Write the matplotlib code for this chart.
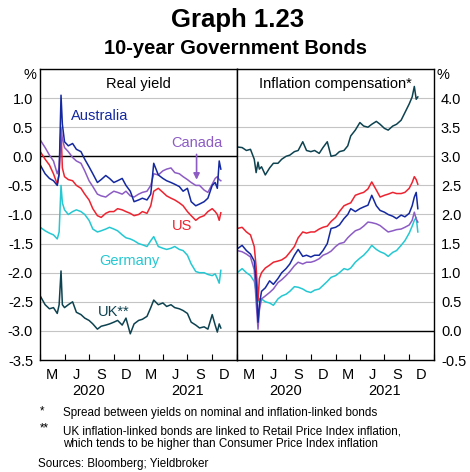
import pandas as pd
import matplotlib.pyplot as plt
import matplotlib.transforms as mtransforms

plt.rcParams['font.family'] = ['Liberation Sans', 'DejaVu Sans']

# observation dates (roughly twice a month, with extra points around the March 2020 sell-off)
dates = pd.to_datetime([
    "2020-01-02", "2020-01-20", "2020-02-05", "2020-02-20", "2020-03-05", "2020-03-12",
    "2020-03-19", "2020-03-24", "2020-04-01", "2020-04-15", "2020-05-01", "2020-05-15",
    "2020-06-01", "2020-06-15", "2020-07-01", "2020-07-15", "2020-08-01", "2020-08-15",
    "2020-09-01", "2020-09-15", "2020-10-01", "2020-10-15", "2020-11-01", "2020-11-15",
    "2020-12-01", "2020-12-15", "2021-01-01", "2021-01-15", "2021-02-01", "2021-02-15",
    "2021-02-26", "2021-03-15", "2021-04-01", "2021-04-15", "2021-05-01", "2021-05-15",
    "2021-06-01", "2021-06-15", "2021-07-01", "2021-07-15", "2021-08-01", "2021-08-15",
    "2021-09-01", "2021-09-15", "2021-10-01", "2021-10-12", "2021-10-20", "2021-10-27",
    "2021-11-02",
])

# real yields, per cent
au_real = [-0.15, -0.3, -0.38, -0.42, -0.5, -0.3, 1.05, 0.55, 0.25, 0.18, 0.22, 0.12,
           0.08, -0.05, -0.18, -0.3, -0.45, -0.4, -0.33, -0.38, -0.45, -0.42, -0.38, -0.5,
           -0.6, -0.78, -0.75, -0.72, -0.75, -0.65, -0.12, -0.32, -0.38, -0.42, -0.45, -0.48,
           -0.52, -0.6, -0.55, -0.78, -0.85, -0.82, -0.78, -0.72, -0.5, -0.45, -0.55, -0.08,
           -0.22]
ca_real = [0.28, 0.15, 0.02, -0.08, -0.3, -0.2, 0.5, 0.3, 0.15, 0.08, -0.02, -0.08,
           -0.12, -0.25, -0.42, -0.52, -0.65, -0.68, -0.7, -0.65, -0.6, -0.62, -0.65, -0.6,
           -0.68, -0.7, -0.65, -0.62, -0.6, -0.5, -0.3, -0.32, -0.25, -0.22, -0.2, -0.28,
           -0.3, -0.35, -0.4, -0.45, -0.5, -0.5, -0.58, -0.62, -0.48, -0.38, -0.35, -0.4,
           -0.42]
us_real = [0.08, -0.05, -0.15, -0.3, -0.48, -0.3, 0.45, -0.2, -0.35, -0.4, -0.42, -0.5,
           -0.55, -0.65, -0.75, -0.9, -1.02, -1.05, -0.98, -0.95, -0.95, -0.9, -0.92, -0.95,
           -0.98, -1.02, -1.0, -0.95, -0.98, -0.85, -0.6, -0.55, -0.62, -0.68, -0.72, -0.75,
           -0.8, -0.85, -0.95, -1.02, -1.1, -1.05, -1.02, -0.95, -0.9, -0.95, -1.0, -1.1,
           -0.97]
de_real = [-1.22, -1.28, -1.32, -1.35, -1.42, -1.3, -0.5, -0.8, -0.92, -1.0, -0.95, -0.92,
           -0.95, -1.0, -1.1, -1.25, -1.3, -1.28, -1.25, -1.22, -1.25, -1.28, -1.35, -1.4,
           -1.42, -1.45, -1.5, -1.52, -1.55, -1.45, -1.38, -1.55, -1.58, -1.6, -1.58, -1.55,
           -1.6, -1.62, -1.7, -1.85, -1.98, -2.0, -2.0, -2.03, -2.05, -2.02, -2.1, -2.18,
           -1.96]
uk_real = [-2.4, -2.55, -2.62, -2.6, -2.7, -2.55, -1.97, -2.55, -2.6, -2.55, -2.5, -2.68,
           -2.72, -2.78, -2.82, -2.88, -2.97, -2.92, -2.9, -2.88, -2.85, -2.82, -2.9, -2.78,
           -3.05, -2.88, -2.82, -2.8, -2.75, -2.6, -2.47, -2.55, -2.52, -2.58, -2.55, -2.6,
           -2.62, -2.65, -2.7, -2.85, -2.9, -2.95, -2.93, -2.97, -2.72, -2.9, -3.02, -2.88,
           -2.95]

# inflation compensation, per cent
au_ic = [1.41, 1.47, 1.38, 1.32, 1.2, 0.85, 0.15, 0.45, 0.68, 0.74, 0.86, 0.8,
         0.9, 1.0, 1.07, 1.15, 1.3, 1.4, 1.28, 1.3, 1.27, 1.3, 1.3, 1.38,
         1.5, 1.76, 1.78, 1.82, 1.93, 2.0, 2.1, 2.05, 2.1, 2.13, 2.16, 2.33,
         2.15, 2.07, 2.04, 2.0, 1.97, 1.93, 1.99, 1.96, 2.02, 2.15, 2.3, 2.38,
         2.1]
ca_ic = [1.38, 1.36, 1.32, 1.27, 1.05, 0.5, 0.03, 0.35, 0.55, 0.6, 0.66, 0.72,
         0.83, 0.88, 0.95, 1.02, 1.12, 1.18, 1.15, 1.18, 1.18, 1.2, 1.24, 1.3,
         1.33, 1.37, 1.45, 1.5, 1.52, 1.6, 1.65, 1.72, 1.75, 1.8, 1.87, 1.86,
         1.84, 1.81, 1.75, 1.7, 1.72, 1.74, 1.75, 1.78, 1.82, 1.9, 2.04, 1.92,
         1.87]
us_ic = [1.76, 1.78, 1.7, 1.65, 1.45, 1.1, 0.52, 0.9, 1.0, 1.08, 1.13, 1.18,
         1.2, 1.22, 1.27, 1.35, 1.45, 1.6, 1.7, 1.68, 1.7, 1.7, 1.75, 1.78,
         1.8, 1.88, 1.95, 2.05, 2.15, 2.18, 2.2, 2.33, 2.36, 2.38, 2.44, 2.56,
         2.42, 2.3, 2.33, 2.35, 2.38, 2.36, 2.36, 2.38, 2.45, 2.55, 2.65, 2.6,
         2.52]
de_ic = [1.0, 1.07, 1.0, 0.95, 0.85, 0.68, 0.5, 0.55, 0.55, 0.5, 0.48, 0.44,
         0.55, 0.6, 0.63, 0.68, 0.76, 0.75, 0.72, 0.68, 0.66, 0.7, 0.72, 0.78,
         0.85, 0.92, 0.95, 1.0, 1.07, 1.05, 1.08, 1.18, 1.25, 1.3, 1.38, 1.47,
         1.4, 1.36, 1.33, 1.28, 1.35, 1.38, 1.47, 1.55, 1.68, 1.8, 1.9, 1.95,
         1.7]
uk_ic = [3.16, 3.15, 3.1, 3.12, 2.95, 2.72, 2.9, 2.78, 2.82, 2.68, 2.8, 2.88,
         2.88, 2.95, 3.0, 3.02, 3.08, 3.1, 3.25, 3.1, 3.08, 3.1, 3.05, 3.15,
         3.25, 3.0, 3.02, 3.08, 3.1, 3.18, 3.35, 3.45, 3.58, 3.52, 3.5, 3.55,
         3.6, 3.55, 3.48, 3.45, 3.52, 3.55, 3.62, 3.75, 3.9, 4.02, 4.2, 3.98,
         4.02]

left_ticks = [-3.5, -3.0, -2.5, -2.0, -1.5, -1.0, -0.5, 0.0, 0.5, 1.0, 1.5]
right_ticks = [-0.5, 0.0, 0.5, 1.0, 1.5, 2.0, 2.5, 3.0, 3.5, 4.0, 4.5]

blue = "#1428a0"
purple = "#8c5cc4"
red = "#ee2330"
cyan = "#24c8d2"
teal = "#0d4250"

W, H = 470, 472
fig = plt.figure(figsize=(W / 100, H / 100), dpi=100)
ax1 = fig.add_axes([40 / W, 1 - 360 / H, 197 / W, 291 / H])
ax2 = fig.add_axes([237 / W, 1 - 360 / H, 197 / W, 291 / H])

quarter_starts = pd.date_range("2020-01-01", "2022-01-01", freq="QS")
quarter_mids = pd.to_datetime(["2020-02-15", "2020-05-16", "2020-08-16", "2020-11-15",
                               "2021-02-15", "2021-05-16", "2021-08-16", "2021-11-15"])
month_labels = ["M", "J", "S", "D", "M", "J", "S", "D"]

for ax, ticks in ((ax1, left_ticks), (ax2, right_ticks)):
    ax.set_xlim(pd.Timestamp("2020-01-01"), pd.Timestamp("2022-01-01"))
    ax.set_ylim(ticks[0], ticks[-1])
    ax.set_yticks(ticks)
    ax.set_yticklabels(["%.1f" % v for v in ticks[:-1]] + [""])
    ax.grid(axis="y", color="#c4c4c4", lw=0.8)
    ax.set_axisbelow(True)
    ax.set_xticks(quarter_starts)
    ax.set_xticklabels([])
    ax.set_xticks(quarter_mids, minor=True)
    ax.set_xticklabels(month_labels, minor=True)
    ax.tick_params(axis="x", which="major", direction="in", length=4, width=0.8)
    ax.tick_params(axis="x", which="minor", length=0, pad=6, labelsize=10.5)
    ax.tick_params(axis="y", length=0, labelsize=10.5, pad=5)
    ax.axhline(0, color="black", lw=1, zorder=2)
    for s in ax.spines.values():
        s.set_linewidth(1)
    trans = mtransforms.blended_transform_factory(ax.transData, ax.transAxes)
    ax.text(pd.Timestamp("2020-07-01"), -0.105, "2020", transform=trans,
            ha="center", va="center", fontsize=10.5)
    ax.text(pd.Timestamp("2021-07-01"), -0.105, "2021", transform=trans,
            ha="center", va="center", fontsize=10.5)

ax2.yaxis.tick_right()

lw = 1.1
ax1.plot(dates, uk_real, color=teal, lw=lw)
ax1.plot(dates, de_real, color=cyan, lw=lw)
ax1.plot(dates, us_real, color=red, lw=lw)
ax1.plot(dates, ca_real, color=purple, lw=lw)
ax1.plot(dates, au_real, color=blue, lw=lw)

ax2.plot(dates, uk_ic, color=teal, lw=lw)
ax2.plot(dates, de_ic, color=cyan, lw=lw)
ax2.plot(dates, ca_ic, color=purple, lw=lw)
ax2.plot(dates, us_ic, color=red, lw=lw)
ax2.plot(dates, au_ic, color=blue, lw=lw)

# series labels
ax1.text(pd.Timestamp("2020-08-10"), 0.70, "Australia", color=blue, fontsize=10.5, ha="center", va="center")
ax1.text(pd.Timestamp("2021-08-04"), 0.22, "Canada", color=purple, fontsize=10.5, ha="center", va="center")
ax1.annotate("", xy=(pd.Timestamp("2021-08-04"), -0.45), xytext=(pd.Timestamp("2021-08-04"), 0.08),
             arrowprops=dict(arrowstyle="-|>", color=purple, lw=1.2, mutation_scale=9))
ax1.text(pd.Timestamp("2021-06-10"), -1.2, "US", color=red, fontsize=10.5, ha="center", va="center")
ax1.text(pd.Timestamp("2020-11-26"), -1.8, "Germany", color=cyan, fontsize=10.5, ha="center", va="center")
ax1.text(pd.Timestamp("2020-10-01"), -2.68, "UK**", color=teal, fontsize=10.5, ha="center", va="center")

ax1.text(0.5, 0.95, "Real yield", transform=ax1.transAxes, ha="center", va="center", fontsize=10.5)
ax2.text(0.5, 0.95, "Inflation compensation*", transform=ax2.transAxes, ha="center", va="center", fontsize=10.5)

fig.text(30 / W, 1 - 75 / H, "%", ha="center", va="center", fontsize=10.5)
fig.text(443 / W, 1 - 75 / H, "%", ha="center", va="center", fontsize=10.5)

fig.text(238 / W, 1 - 20 / H, "Graph 1.23", ha="center", va="center", fontsize=18.5, fontweight="bold")
fig.text(235 / W, 1 - 49 / H, "10-year Government Bonds", ha="center", va="center", fontsize=14.5, fontweight="bold")

fn = 8.4
fig.text(40 / W, 1 - 411 / H, "*", ha="left", va="center", fontsize=fn)
fig.text(63 / W, 1 - 413 / H, "Spread between yields on nominal and inflation-linked bonds", ha="left", va="center", fontsize=fn)
fig.text(40 / W, 1 - 428 / H, "**", ha="left", va="center", fontsize=fn)
fig.text(63 / W, 1 - 431 / H, "UK inflation-linked bonds are linked to Retail Price Index inflation,", ha="left", va="center", fontsize=fn)
fig.text(63 / W, 1 - 444 / H, "which tends to be higher than Consumer Price Index inflation", ha="left", va="center", fontsize=fn)
fig.text(38 / W, 1 - 464 / H, "Sources: Bloomberg; Yieldbroker", ha="left", va="center", fontsize=fn)

fig.savefig("out.png", dpi=100)
